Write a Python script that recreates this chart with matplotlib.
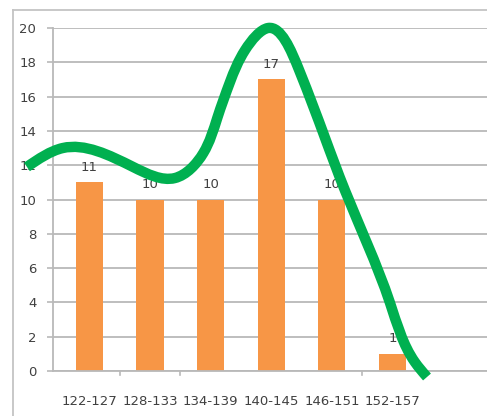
import numpy as np
from matplotlib import pyplot as plt
from matplotlib.path import Path
from matplotlib.patches import PathPatch
from matplotlib.lines import Line2D

# Height classes and how many fall in each
classes = ['122-127', '128-133', '134-139', '140-145', '146-151', '152-157']
counts = [11, 10, 10, 17, 10, 1]

# Hand-drawn trend curve (category position, count)
curve_x = [-1.03, -0.44, 0.72, 1.41, 1.88, 2.11, 2.32, 2.57, 2.95, 3.46,
           4.22, 4.96, 5.37, 5.57]
curve_y = [11.9, 13.0, 11.9, 11.25, 12.71, 14.75, 16.85, 18.72, 20.0, 17.55,
           10.5, 3.97, 0.52, -0.35]

W, H = 487, 416
fig = plt.figure(figsize=(W / 100, H / 100), dpi=100)
ax = fig.add_axes([53 / W, 1 - 371 / H, (W - 53) / W, (371 - 28) / H])

grid_c = '#b9b9b9'
text_c = '#404040'

x = np.arange(len(classes))
ax.bar(x, counts, width=0.45, color='#f79646', zorder=2)
for xi, c in zip(x, counts):
    ax.text(xi, c + 0.5, str(c), ha='center', va='bottom', fontsize=9.5, color=text_c, zorder=3)

ax.set_xlim(-0.60, 6.56)
ax.set_ylim(0, 20)
ax.set_yticks(range(0, 21, 2))
ax.yaxis.grid(True, color=grid_c, linewidth=1.3, zorder=0)
ax.set_axisbelow(True)

ax.set_xticks(x)
ax.set_xticklabels(classes, fontsize=9.5, color=text_c)
ax.tick_params(axis='x', length=0, pad=17)
ax.tick_params(axis='y', length=4, width=1.2, color=grid_c, labelsize=9.5, labelcolor=text_c, pad=8)
for b in [0.5, 1.5, 4.5, 5.5]:
    ax.plot([b, b], [0, -0.25], color=grid_c, lw=1.2, clip_on=False)

for s in ['top', 'right']:
    ax.spines[s].set_visible(False)
for s in ['left', 'bottom']:
    ax.spines[s].set_color(grid_c)
    ax.spines[s].set_linewidth(1.3)

# natural cubic spline through the points (chord-length parameter in
# screen proportions), written out as Bezier segments for a PathPatch
scale = np.array([60.6, 17.15])
P = np.column_stack([curve_x, curve_y]) * scale
n = len(P)
h = np.linalg.norm(np.diff(P, axis=0), axis=1)
A = np.zeros((n, n))
rhs = np.zeros((n, 2))
A[0, 0] = A[-1, -1] = 1
for i in range(1, n - 1):
    A[i, i - 1] = h[i - 1]
    A[i, i] = 2 * (h[i - 1] + h[i])
    A[i, i + 1] = h[i]
    rhs[i] = 6 * ((P[i + 1] - P[i]) / h[i] - (P[i] - P[i - 1]) / h[i - 1])
M = np.linalg.solve(A, rhs)

verts = [P[0]]
codes = [Path.MOVETO]
for i in range(n - 1):
    s = (P[i + 1] - P[i]) / h[i]
    d0 = s - h[i] * (2 * M[i] + M[i + 1]) / 6
    d1 = s + h[i] * (M[i] + 2 * M[i + 1]) / 6
    verts += [P[i] + d0 * h[i] / 3, P[i + 1] - d1 * h[i] / 3, P[i + 1]]
    codes += [Path.CURVE4] * 3
verts = np.array(verts) / scale
curve = PathPatch(Path(verts, codes), facecolor='none', edgecolor='#00b050',
                  linewidth=7.5, capstyle='butt', joinstyle='round', zorder=5, clip_on=False)
ax.add_patch(curve)

# outer chart frame
fig.add_artist(Line2D([12.5 / W, 1], [1 - 10 / H] * 2, color='#c4c4c4', lw=1.3))
fig.add_artist(Line2D([12.5 / W] * 2, [0, 1 - 10 / H], color='#c4c4c4', lw=1.3))

fig.savefig('out.png', dpi=100)
